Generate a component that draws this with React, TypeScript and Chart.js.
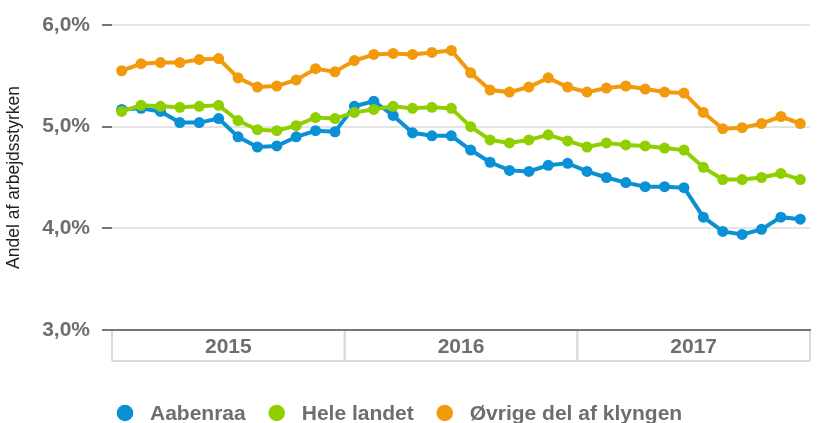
import React, { useEffect, useRef } from "react";
import { Chart, registerables } from "chart.js";

Chart.register(...registerables);

const years = ["2015", "2016", "2017"];
const months = ["jan", "feb", "mar", "apr", "maj", "jun", "jul", "aug", "sep", "okt", "nov", "dec"];
const labels = years.flatMap((y) => months.map((m) => `${m} ${y}`));

const aabenraa = [
  5.17, 5.18, 5.15, 5.04, 5.04, 5.08, 4.9, 4.8, 4.81, 4.9, 4.96, 4.95,
  5.2, 5.25, 5.11, 4.94, 4.91, 4.91, 4.77, 4.65, 4.57, 4.56, 4.62, 4.64,
  4.56, 4.5, 4.45, 4.41, 4.41, 4.4, 4.11, 3.97, 3.94, 3.99, 4.11, 4.09,
];
const heleLandet = [
  5.15, 5.21, 5.2, 5.19, 5.2, 5.21, 5.06, 4.97, 4.96, 5.01, 5.09, 5.08,
  5.14, 5.17, 5.2, 5.18, 5.19, 5.18, 5.0, 4.87, 4.84, 4.87, 4.92, 4.86,
  4.8, 4.84, 4.82, 4.81, 4.79, 4.77, 4.6, 4.48, 4.48, 4.5, 4.54, 4.48,
];
const oevrige = [
  5.55, 5.62, 5.63, 5.63, 5.66, 5.67, 5.48, 5.39, 5.4, 5.46, 5.57, 5.54,
  5.65, 5.71, 5.72, 5.71, 5.73, 5.75, 5.53, 5.36, 5.34, 5.39, 5.48, 5.39,
  5.34, 5.38, 5.4, 5.37, 5.34, 5.33, 5.14, 4.98, 4.99, 5.03, 5.1, 5.03,
];

const seriesNames = ["Aabenraa", "Hele landet", "Øvrige del af klyngen"];
const seriesColors = ["#0a90d5", "#8fcf00", "#f29a0c"];

const FONT = '"Liberation Sans", Arial, sans-serif';
const GRAY = "#6e6e6e";

const yearBoxPlugin = {
  id: "yearBoxes",
  afterDraw(chart: any) {
    const { ctx, chartArea } = chart;
    const xs = chart.scales.x;
    const half = (xs.getPixelForValue(1) - xs.getPixelForValue(0)) / 2;
    const top = chartArea.bottom + 1;
    const bottom = chartArea.bottom + 31;
    ctx.save();
    ctx.strokeStyle = "#dadada";
    ctx.lineWidth = 2;
    ctx.beginPath();
    ctx.moveTo(chartArea.left, bottom);
    ctx.lineTo(chartArea.right, bottom);
    ctx.stroke();
    ctx.font = `bold 21px ${FONT}`;
    ctx.fillStyle = GRAY;
    ctx.textAlign = "center";
    ctx.textBaseline = "middle";
    years.forEach((y, i) => {
      const x0 = xs.getPixelForValue(i * 12) - half;
      const x1 = xs.getPixelForValue(i * 12 + 11) + half;
      ctx.beginPath();
      ctx.moveTo(x0, top);
      ctx.lineTo(x0, bottom);
      ctx.moveTo(x1, top);
      ctx.lineTo(x1, bottom);
      ctx.stroke();
      ctx.fillText(y, (x0 + x1) / 2, (top + bottom) / 2 + 1);
    });
    // legend
    const ly = 413;
    let cx = 125;
    ctx.textAlign = "left";
    seriesNames.forEach((name, i) => {
      ctx.fillStyle = seriesColors[i];
      ctx.beginPath();
      ctx.arc(cx, ly, 8.3, 0, Math.PI * 2);
      ctx.fill();
      ctx.fillStyle = GRAY;
      ctx.fillText(name, cx + 25, ly + 1);
      const w = ctx.measureText(name).width;
      cx = cx + 25 + w + 31;
    });
    ctx.restore();
  },
};

export default function App() {
  const ref = useRef<HTMLCanvasElement>(null);
  useEffect(() => {
    if (!ref.current) return;
    const mk = (data: number[], i: number, order: number) => ({
      label: seriesNames[i],
      data,
      borderColor: seriesColors[i],
      backgroundColor: seriesColors[i],
      pointBackgroundColor: seriesColors[i],
      pointBorderColor: seriesColors[i],
      borderWidth: 4,
      pointRadius: 5.5,
      pointBorderWidth: 0,
      tension: 0,
      order,
    });
    const chart = new Chart(ref.current, {
      type: "line",
      data: {
        labels,
        datasets: [mk(aabenraa, 0, 1), mk(heleLandet, 1, 0), mk(oevrige, 2, 2)],
      },
      options: {
        animation: false,
        responsive: true,
        maintainAspectRatio: false,
        layout: { padding: { top: 25, right: 8, left: 0, bottom: 0 } },
        plugins: {
          legend: { display: false },
          tooltip: { enabled: false },
        },
        scales: {
          x: {
            type: "category",
            offset: true,
            ticks: { display: false },
            grid: { display: false, drawTicks: false },
            border: { display: true, color: "#777777", width: 2 },
            afterFit: (s: any) => {
              s.height = 93;
            },
          },
          y: {
            min: 3,
            max: 6,
            ticks: {
              stepSize: 1,
              padding: 12,
              color: GRAY,
              font: { family: FONT, size: 21, weight: "bold" },
              callback: (v: any) => Number(v).toFixed(1).replace(".", ",") + "%",
            },
            grid: {
              color: "#e4e4e4",
              lineWidth: 2,
              tickLength: 10,
              tickColor: "#777777",
            },
            border: { display: false },
            title: {
              display: true,
              text: "Andel af arbejdsstyrken",
              color: "#222222",
              font: { family: FONT, size: 17.5, weight: "normal" },
              padding: { top: 4, bottom: 0 },
            },
            afterFit: (s: any) => {
              s.width = 112;
            },
          },
        },
      },
      plugins: [yearBoxPlugin],
    });
    return () => chart.destroy();
  }, []);
  return (
    <div style={{ position: "fixed", left: 0, top: 0, width: 818, height: 423, background: "#fff" }}>
      <canvas ref={ref} />
    </div>
  );
}
